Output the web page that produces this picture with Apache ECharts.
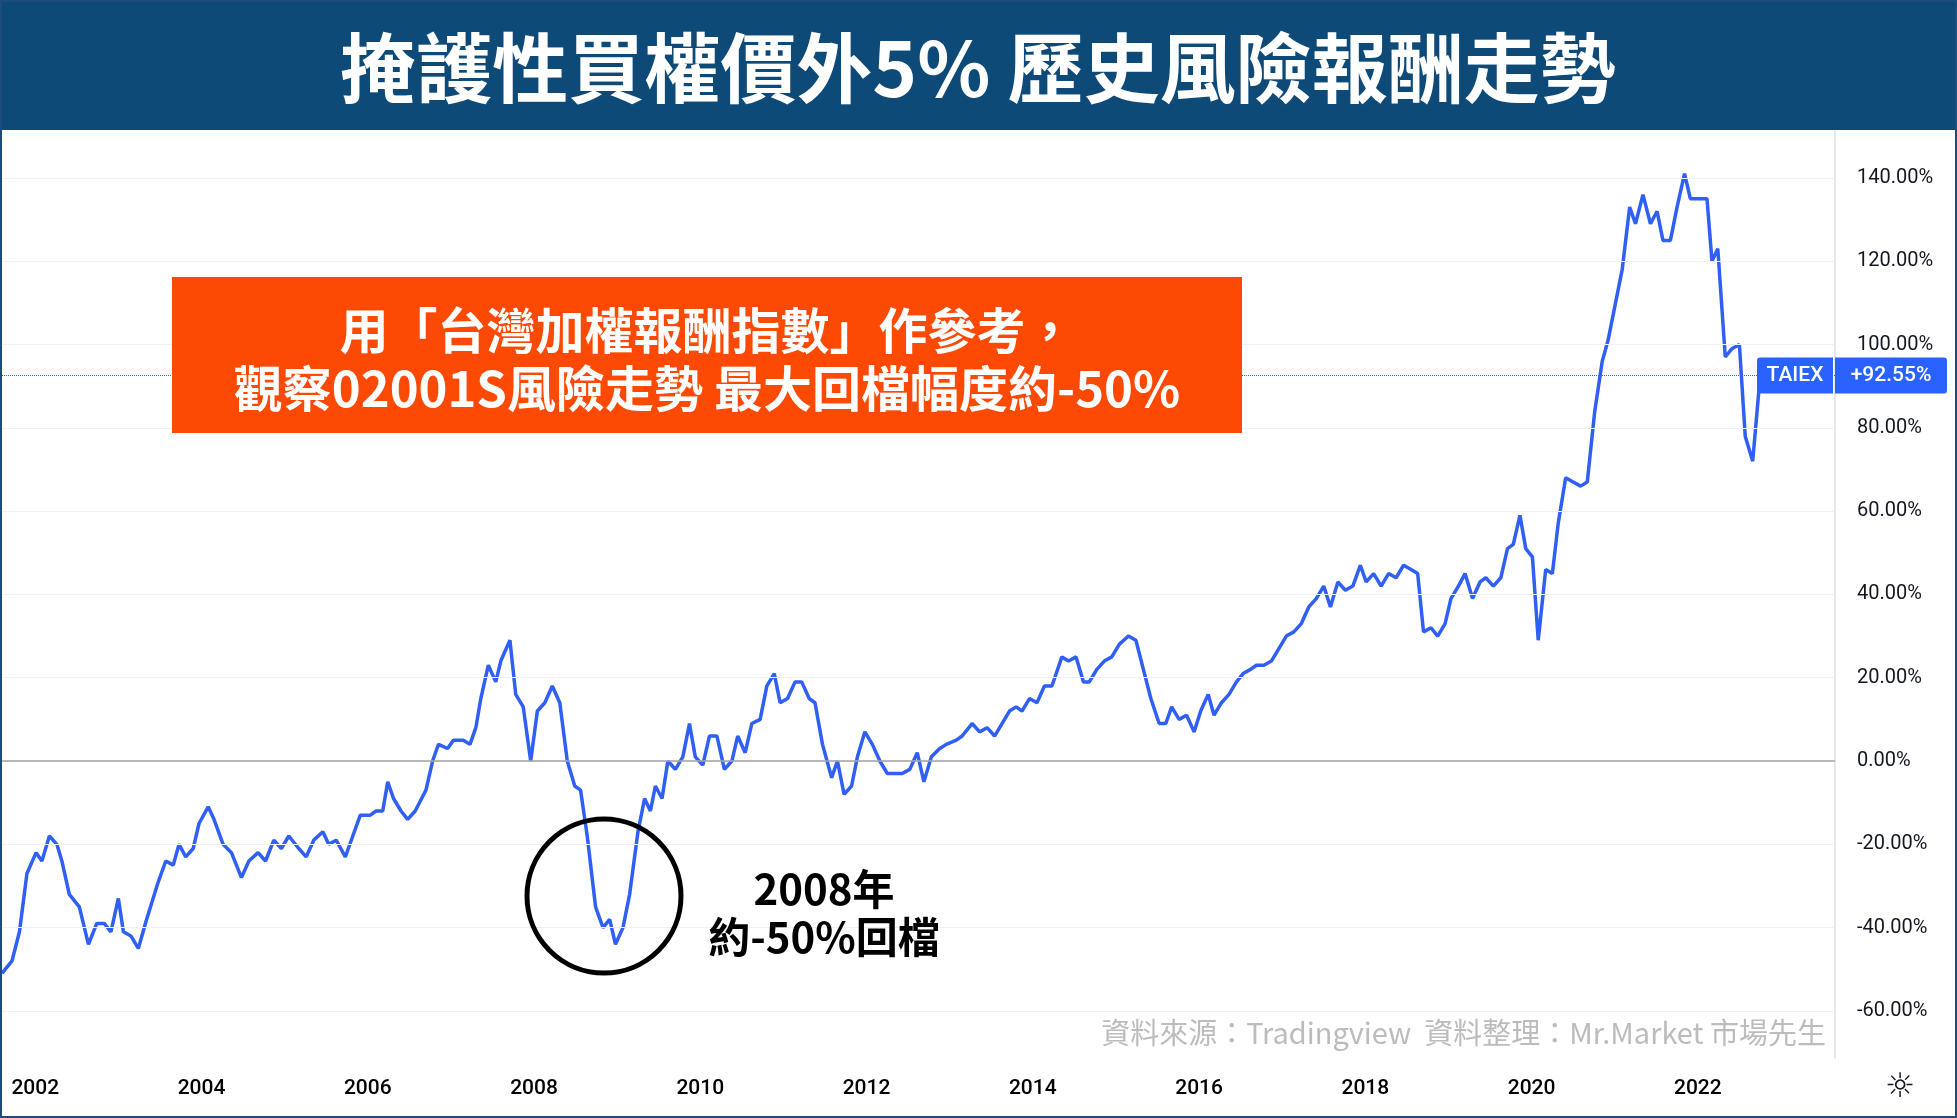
<!DOCTYPE html>
<html><head><meta charset="utf-8">
<script src="https://cdn.jsdelivr.net/npm/echarts@6/dist/echarts.min.js"></script>
<style>html,body{margin:0;padding:0;background:#fff}#c{width:1957px;height:1118px}</style>
</head><body><div id="c"></div>
<script>
const years = [2001.60,2001.72,2001.81,2001.90,2002.01,2002.08,2002.17,2002.26,2002.32,2002.41,2002.53,2002.64,2002.74,2002.83,2002.91,2003.00,2003.06,2003.15,2003.24,2003.34,2003.48,2003.57,2003.66,2003.73,2003.81,2003.90,2003.97,2004.08,2004.15,2004.26,2004.36,2004.48,2004.57,2004.68,2004.77,2004.87,2004.96,2005.05,2005.17,2005.26,2005.35,2005.46,2005.53,2005.62,2005.73,2005.82,2005.91,2006.03,2006.10,2006.18,2006.24,2006.31,2006.40,2006.48,2006.57,2006.70,2006.78,2006.85,2006.96,2007.03,2007.15,2007.23,2007.30,2007.36,2007.45,2007.54,2007.60,2007.71,2007.78,2007.87,2007.96,2008.04,2008.13,2008.22,2008.31,2008.40,2008.49,2008.56,2008.64,2008.74,2008.83,2008.91,2008.98,2009.07,2009.15,2009.25,2009.33,2009.40,2009.46,2009.54,2009.61,2009.70,2009.79,2009.87,2009.94,2010.03,2010.11,2010.20,2010.29,2010.38,2010.45,2010.54,2010.62,2010.72,2010.80,2010.89,2010.96,2011.05,2011.14,2011.22,2011.31,2011.38,2011.47,2011.58,2011.65,2011.73,2011.82,2011.89,2011.98,2012.07,2012.16,2012.25,2012.34,2012.43,2012.52,2012.61,2012.69,2012.78,2012.88,2012.96,2013.08,2013.15,2013.27,2013.36,2013.45,2013.54,2013.63,2013.72,2013.80,2013.87,2013.96,2014.05,2014.14,2014.23,2014.35,2014.43,2014.52,2014.61,2014.68,2014.77,2014.86,2014.95,2015.04,2015.15,2015.24,2015.33,2015.42,2015.52,2015.60,2015.67,2015.76,2015.85,2015.94,2016.02,2016.11,2016.18,2016.27,2016.36,2016.45,2016.53,2016.62,2016.69,2016.78,2016.87,2016.96,2017.05,2017.14,2017.23,2017.32,2017.41,2017.50,2017.58,2017.67,2017.76,2017.85,2017.94,2018.01,2018.10,2018.19,2018.28,2018.37,2018.46,2018.55,2018.63,2018.70,2018.79,2018.87,2018.96,2019.03,2019.12,2019.20,2019.29,2019.38,2019.45,2019.54,2019.63,2019.71,2019.78,2019.86,2019.93,2020.01,2020.08,2020.17,2020.25,2020.32,2020.41,2020.50,2020.59,2020.67,2020.76,2020.85,2020.92,2021.01,2021.09,2021.18,2021.25,2021.34,2021.43,2021.51,2021.58,2021.67,2021.75,2021.84,2021.91,2022.00,2022.11,2022.17,2022.24,2022.33,2022.41,2022.50,2022.57,2022.66,2022.75];
const returns = [-51,-48,-41,-27,-22,-24,-18,-20,-24,-32,-35,-44,-39,-39,-41,-33,-41,-42,-45,-38,-29,-24,-25,-20,-23,-21,-15,-11,-14,-20,-22,-28,-24,-22,-24,-19,-21,-18,-21,-23,-19,-17,-20,-19,-23,-18,-13,-13,-12,-12,-5,-9,-12,-14,-12,-7,0,4,3,5,5,4,8,15,23,19,24,29,16,13,0,12,14,18,14,0,-6,-7,-18,-35,-40,-38,-44,-40,-32,-17,-9,-12,-6,-9,0,-2,1,9,1,-1,6,6,-2,0,6,2,9,10,18,21,14,15,19,19,15,14,4,-4,0,-8,-6,1,7,4,0,-3,-3,-3,-2,2,-5,1,3,4,5,6,9,7,8,6,9,12,13,12,15,14,18,18,25,24,25,19,19,22,24,25,28,30,29,22,15,9,9,13,10,11,7,12,16,11,14,16,19,21,22,23,23,24,27,30,31,33,37,39,42,37,43,41,42,47,43,45,42,45,44,47,46,45,31,32,30,33,39,42,45,39,43,44,42,44,51,52,59,51,49,29,46,45,57,68,67,66,67,84,96,101,110,118,133,129,136,129,132,125,125,133,141,135,135,135,120,123,97,99,100,78,72,92.55];
const yTicks = [-60,-40,-20,0,20,40,60,80,100,120,140];
const xTicks = [2002,2004,2006,2008,2010,2012,2014,2016,2018,2020,2022];
const lastValue = 92.55;
const seriesName = 'TAIEX';

const chart = echarts.init(document.getElementById('c'));
const data = years.map((y,i)=>[y, returns[i]]);
const gridLines = yTicks.map(v=>({yAxis:v, lineStyle:{color: v===0?'#aaaaaa':'#f0f0f0', type:'solid', width: v===0?1.5:1}}));
gridLines.push({yAxis:lastValue, lineStyle:{color:'#2962ff', type:'dotted', width:1}});
chart.setOption({
  animation:false,
  grid:{left:2, right:122, top:130, bottom:60},
  xAxis:{type:'value', min:2001.6, max:2023.65,
    axisLine:{show:true, lineStyle:{color:'#e0e0e0', width:2}},
    axisTick:{show:false}, splitLine:{show:false},
    axisLabel:{customValues:xTicks, formatter:v=>String(v), color:'#000', fontSize:21, fontWeight:500, margin:20, fontFamily:'Roboto'}},
  yAxis:{type:'value', position:'right', min:-71.3, max:151.5,
    axisLine:{show:true, lineStyle:{color:'#e0e0e0', width:1.5}},
    axisTick:{show:false}, splitLine:{show:false},
    axisLabel:{customValues:yTicks, formatter:v=>v.toFixed(2)+'%', color:'#131722', fontSize:20, margin:22, fontFamily:'Roboto'}},
  series:[{type:'line', name:seriesName, data:data, showSymbol:false, lineStyle:{color:'#2f5ff5', width:3.5},
    markLine:{silent:true, symbol:'none', label:{show:false}, data:gridLines}}],
  graphic:[]
});
const yPix = chart.convertToPixel({gridIndex:0}, [2001.6, lastValue])[1];
chart.setOption({graphic:[
  {type:'rect', shape:{x:0,y:0,width:1957,height:130}, style:{fill:'#0d4a78'}, z:10},
  {type:'text', x:978, y:68, style:{text:'掩護性買權價外5% 歷史風險報酬走勢', fill:'#fff', font:'bold 76px "Noto Sans CJK TC"', align:'center', verticalAlign:'middle'}, z:11},
  {type:'rect', shape:{x:0,y:0,width:1957,height:1118}, style:{fill:'none', stroke:'#1d4b7a', lineWidth:4}, z:12},
  {type:'rect', shape:{x:172,y:277,width:1070,height:156}, style:{fill:'#fc4a05'}, z:10},
  {type:'text', x:707, y:330, style:{text:'用「台灣加權報酬指數」作參考，', fill:'#fff', font:'bold 49px "Noto Sans CJK TC"', align:'center', verticalAlign:'middle'}, z:11},
  {type:'text', x:707, y:388, style:{text:'觀察02001S風險走勢 最大回檔幅度約-50%', fill:'#fff', font:'bold 49px "Noto Sans CJK TC"', align:'center', verticalAlign:'middle'}, z:11},
  {type:'circle', shape:{cx:604, cy:896, r:77}, style:{fill:'none', stroke:'#000', lineWidth:5}, z:10},
  {type:'text', x:824, y:889, style:{text:'2008年', fill:'#000', font:'bold 42px "Noto Sans CJK TC"', align:'center', verticalAlign:'middle'}, z:11},
  {type:'text', x:824, y:937, style:{text:'約-50%回檔', fill:'#000', font:'bold 42px "Noto Sans CJK TC"', align:'center', verticalAlign:'middle'}, z:11},
  {type:'text', x:1826, y:1033, style:{text:'資料來源：Tradingview  資料整理：Mr.Market 市場先生', fill:'#bcbcbc', font:'29px "Noto Sans CJK TC"', align:'right', verticalAlign:'middle'}, z:11},
  {type:'rect', shape:{x:1757,y:yPix-18,width:76,height:36, r:[3,0,0,3]}, style:{fill:'#2962ff'}, z:11},
  {type:'text', x:1795, y:yPix, style:{text:seriesName, fill:'#fff', font:'500 21px Roboto', align:'center', verticalAlign:'middle'}, z:12},
  {type:'rect', shape:{x:1835,y:yPix-18,width:112,height:36, r:[0,3,3,0]}, style:{fill:'#2962ff'}, z:11},
  {type:'text', x:1891, y:yPix, style:{text:'+'+lastValue.toFixed(2)+'%', fill:'#fff', font:'500 21px Roboto', align:'center', verticalAlign:'middle'}, z:12},
  {type:'text', x:1900, y:1088, style:{text:'☼', fill:'#131722', font:'34px "DejaVu Sans"', align:'center', verticalAlign:'middle'}, z:11}
]});
</script></body></html>
